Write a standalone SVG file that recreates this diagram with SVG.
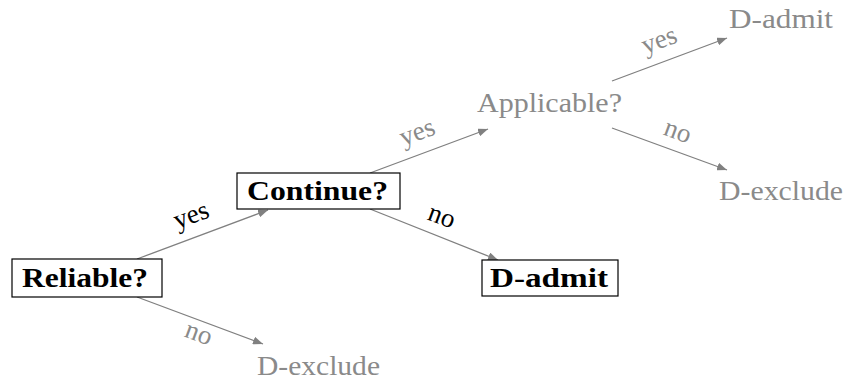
<svg xmlns="http://www.w3.org/2000/svg" width="845" height="383" viewBox="0 0 845 383">
<style>
.t{font-family:"Liberation Serif","DejaVu Serif",serif;font-size:27px}
.b{font-weight:bold;fill:#000}
.g{fill:#8a8a8a}
.k{fill:#000}
.lab{font-family:"Liberation Serif","DejaVu Serif",serif;font-size:27px;text-anchor:middle}
.box{fill:#fff;stroke:#000;stroke-width:1.2}
.edge{stroke:#808080;stroke-width:1.3;fill:none;marker-end:url(#ah)}
</style>
<defs>
<marker id="ah" viewBox="0 0 10 8" refX="10" refY="4" markerWidth="10" markerHeight="8" markerUnits="userSpaceOnUse" orient="auto">
<path d="M0,0 L10,4 L0,8 Z" fill="#808080"/>
</marker>
</defs>
<g id="connectors">
<line class="edge" x1="137" y1="259" x2="268" y2="210"/>
<line class="edge" x1="137" y1="297" x2="263" y2="344"/>
<line class="edge" x1="370" y1="173" x2="488" y2="129"/>
<line class="edge" x1="370" y1="209" x2="498" y2="260"/>
<line class="edge" x1="612" y1="81" x2="727" y2="38"/>
<line class="edge" x1="612" y1="128" x2="727" y2="170"/>
<text class="lab k" transform="translate(194,223) rotate(-20.5)">yes</text>
<text class="lab g" transform="translate(196,341) rotate(20.5)">no</text>
<text class="lab g" transform="translate(420,140) rotate(-20.5)">yes</text>
<text class="lab k" transform="translate(439,224) rotate(20.5)">no</text>
<text class="lab g" transform="translate(662,48) rotate(-20.5)">yes</text>
<text class="lab g" transform="translate(675,139) rotate(20.5)">no</text>
</g>
<g id="reliable">
<rect class="box" x="12" y="259" width="150" height="38"/>
<text class="t b" x="22" y="287" textLength="126" lengthAdjust="spacingAndGlyphs">Reliable?</text>
</g>
<g id="continue">
<rect class="box" x="237" y="173" width="163" height="36"/>
<text class="t b" x="247" y="200" textLength="141" lengthAdjust="spacingAndGlyphs">Continue?</text>
</g>
<g id="admit1">
<rect class="box" x="482" y="260" width="136" height="36"/>
<text class="t b" x="490" y="287" textLength="118" lengthAdjust="spacingAndGlyphs">D-admit</text>
</g>
<g id="exclude1">
<text class="t g" x="257" y="375" textLength="123" lengthAdjust="spacingAndGlyphs">D-exclude</text>
</g>
<g id="applicable">
<text class="t g" x="477" y="112" textLength="145" lengthAdjust="spacingAndGlyphs">Applicable?</text>
</g>
<g id="admit2">
<text class="t g" x="729" y="28" textLength="104" lengthAdjust="spacingAndGlyphs">D-admit</text>
</g>
<g id="exclude2">
<text class="t g" x="719" y="200" textLength="124" lengthAdjust="spacingAndGlyphs">D-exclude</text>
</g>
</svg>
